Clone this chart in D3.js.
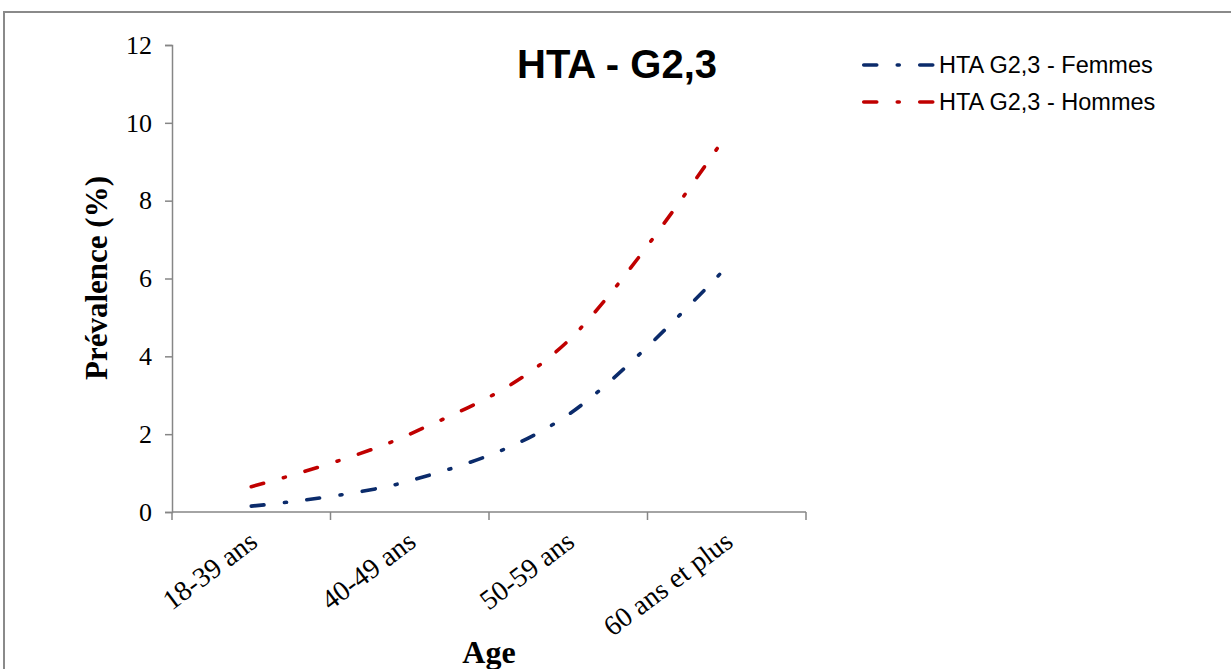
<!DOCTYPE html>
<html>
<head>
<meta charset="utf-8">
<script src="https://cdn.jsdelivr.net/npm/d3@7"></script>
<style>
  html, body { margin: 0; padding: 0; background: #fff; }
  svg { display: block; }
</style>
</head>
<body>
<svg id="chart" width="1231" height="669"></svg>
<script>
const categories = ["18-39 ans", "40-49 ans", "50-59 ans", "60 ans et plus"];
const femmes = [0.15, 0.8, 2.5, 6.3];
const hommes = [0.65, 2.0, 4.4, 9.7];
const yTicks = [0, 2, 4, 6, 8, 10, 12];
const seriesNames = ["HTA G2,3 - Femmes", "HTA G2,3 - Hommes"];
const title = "HTA - G2,3";
const yTitle = "Prévalence (%)";
const xTitle = "Age";

(function () {
const svg = d3.select("#chart");
const colors = ["#0b2b6b", "#c00000"];
const axisColor = "#868686";
const dash = "13,20.5,2,20.5";

// outer border
svg.append("rect").attr("x", 4).attr("y", 12).attr("width", 1260).attr("height", 700)
  .attr("fill", "none").attr("stroke", "#8a8a8a").attr("stroke-width", 2);

const mLeft = 172, mRight = 806, mTop = 45, mBottom = 512;
const x = d3.scaleBand().domain(categories).range([mLeft, mRight]).paddingInner(0).paddingOuter(0);
const y = d3.scaleLinear().domain([0, 12]).range([mBottom, mTop]);

// Y axis
const yAxis = d3.axisLeft(y).tickValues(yTicks).tickSize(7).tickPadding(13).tickFormat(d3.format("d"));
const gy = svg.append("g").attr("transform", `translate(${mLeft},0)`).call(yAxis);
gy.select(".domain").attr("stroke", axisColor).attr("stroke-width", 1.5);
gy.selectAll(".tick line").attr("stroke", axisColor).attr("stroke-width", 1.5);
gy.selectAll(".tick text").attr("font-family", "'Liberation Serif', 'Times New Roman', serif")
  .attr("font-size", 26).attr("fill", "#000");

// X axis (ticks at category boundaries)
const gx = svg.append("g").attr("transform", `translate(0,${mBottom})`);
gx.append("line").attr("x1", mLeft).attr("x2", mRight).attr("y1", 0).attr("y2", 0)
  .attr("stroke", axisColor).attr("stroke-width", 1.5);
const bounds = categories.map(c => x(c)).concat([x(categories[categories.length - 1]) + x.bandwidth()]);
gx.selectAll("line.tk").data(bounds).enter().append("line").attr("class", "tk")
  .attr("x1", d => d).attr("x2", d => d).attr("y1", 0).attr("y2", 8)
  .attr("stroke", axisColor).attr("stroke-width", 1.5);
svg.selectAll("text.lbl").data(categories).enter().append("text").attr("class", "lbl")
  .attr("transform", d => `translate(${x(d) + x.bandwidth() / 2 + 8},545) rotate(-37)`)
  .attr("text-anchor", "end")
  .attr("font-family", "'Liberation Serif', 'Times New Roman', serif")
  .attr("font-size", 28).attr("fill", "#000")
  .text(d => d);

// Axis titles
svg.append("text").attr("transform", `translate(107,278) rotate(-90)`)
  .attr("text-anchor", "middle").attr("font-family", "'Liberation Serif', 'Times New Roman', serif")
  .attr("font-weight", "bold").attr("font-size", 31).attr("fill", "#000").text(yTitle);
svg.append("text").attr("x", 489).attr("y", 663)
  .attr("text-anchor", "middle").attr("font-family", "'Liberation Serif', 'Times New Roman', serif")
  .attr("font-weight", "bold").attr("font-size", 32).attr("fill", "#000").text(xTitle);

// Title
svg.append("text").attr("x", 517).attr("y", 78)
  .attr("font-family", "'Liberation Sans', Arial, sans-serif")
  .attr("font-weight", "bold").attr("font-size", 40).attr("fill", "#000").text(title);

// Lines
const line = d3.line()
  .x((d, i) => x(categories[i]) + x.bandwidth() / 2)
  .y(d => y(d))
  .curve(d3.curveCardinal.tension(0));

[femmes, hommes].forEach((s, i) => {
  svg.append("path").datum(s).attr("d", line)
    .attr("fill", "none").attr("stroke", colors[i]).attr("stroke-width", 3.6)
    .attr("stroke-linecap", "round").attr("stroke-dasharray", dash);
});

// Legend
const legY = [65, 102];
seriesNames.forEach((n, i) => {
  svg.append("line").attr("x1", 863.75).attr("x2", 933.25).attr("y1", legY[i]).attr("y2", legY[i])
    .attr("stroke", colors[i]).attr("stroke-width", 3.6).attr("stroke-linecap", "round")
    .attr("stroke-dasharray", dash);
  svg.append("text").attr("x", 939).attr("y", legY[i] + 8)
    .attr("font-family", "'Liberation Sans', Arial, sans-serif")
    .attr("font-size", 23.5).attr("fill", "#000").text(n);
});
})();
</script>
</body>
</html>
